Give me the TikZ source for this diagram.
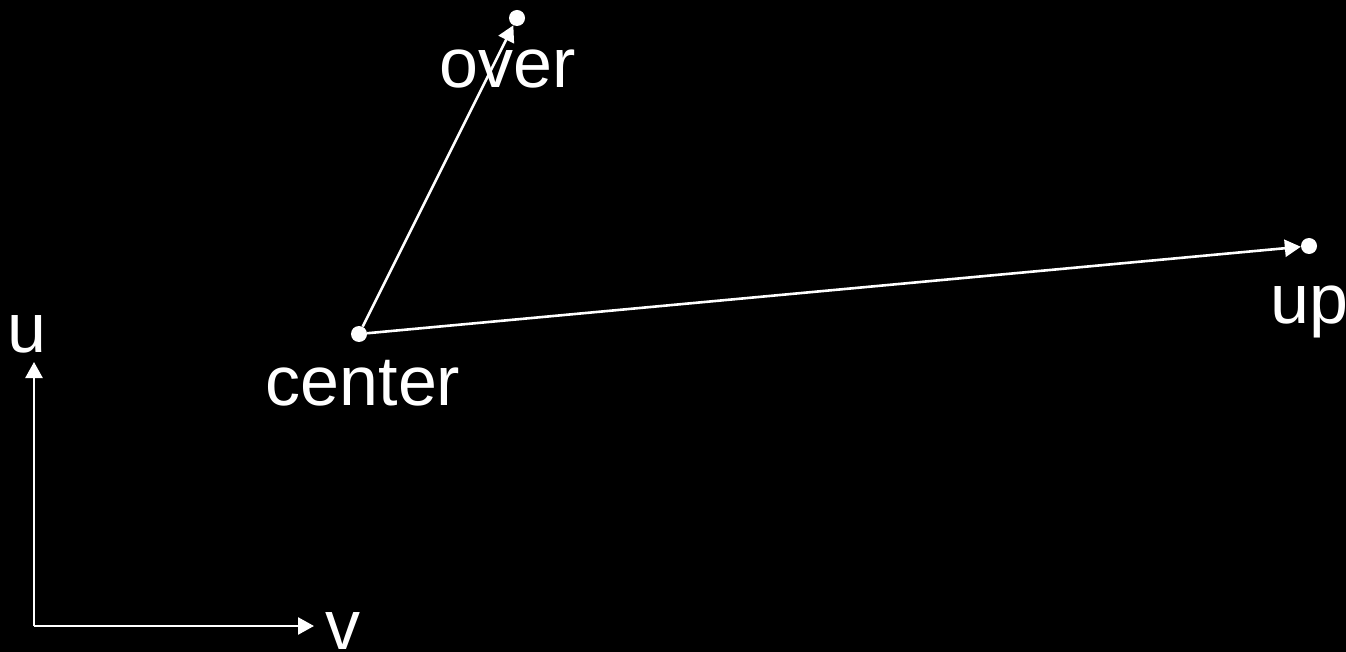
\documentclass[tikz,border=0pt]{standalone}
\usepackage{fontspec}
\setmainfont{Liberation Sans}
\usetikzlibrary{arrows.meta}
\begin{document}
\begin{tikzpicture}[x=1pt,y=-1pt,
  dot/.style={circle,fill=white,inner sep=0pt,minimum size=16pt},
  arr/.style={white,line width=2.6pt,-{Triangle[length=16pt,width=17pt]}},
  lbl/.style={text=white,anchor=base,inner sep=0pt,font=\fontsize{70}{84}\selectfont}]
\fill[black] (0,0) rectangle (1346,652);
\useasboundingbox (0,0) rectangle (1346,652);
\node[dot] (c) at (359,334) {};
\node[dot] (o) at (517,18) {};
\node[dot] (p) at (1309,246) {};
\draw[arr] (c) -- (o);
\draw[arr] (c) -- (p);
\coordinate (org) at (34,626);
\coordinate (ut) at (34,362);
\coordinate (vt) at (314,626);
\draw[arr] (org) -- (ut);
\draw[arr] (org) -- (vt);
\node[lbl] (lc) at (363,405) {center};
\node[lbl] (lo) at (508,88) {over};
\node[lbl] (lp) at (1309,323) {up};
\node[lbl] (lu) at (27,352) {u};
\node[lbl] (lv) at (343,649) {v};
\end{tikzpicture}
\end{document}
